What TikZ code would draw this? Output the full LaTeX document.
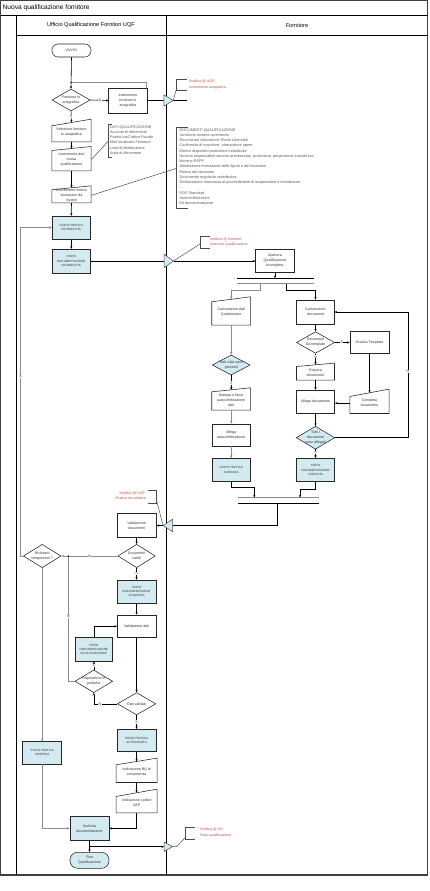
\documentclass[tikz,border=0pt]{standalone}
\usepackage{fontspec}
\setmainfont{Liberation Sans}
\usetikzlibrary{shapes.geometric,arrows.meta,calc}
\definecolor{lb}{RGB}{210,234,240}
\definecolor{rd}{RGB}{196,78,72}
\newcommand\fsBox{\fontsize{3.6}{4.9}\selectfont}
\newcommand\fsCap{\fontsize{3.0}{4.2}\selectfont}
\newcommand\fsLbl{\fontsize{3.6}{4.2}\selectfont}
\newcommand\fsAnn{\fontsize{3.8}{5.25}\selectfont}
\newcommand\fsRed{\fontsize{3.6}{5.4}\selectfont}
\newcommand\zwbox[1]{\makebox[0pt]{#1}}
\newcommand\maninShape[2]{\draw[shp] ([yshift=-#2]#1.north west) -- ([yshift=#2]#1.north east) -- (#1.south east) -- (#1.south west) -- cycle;}
\begin{document}
\begin{tikzpicture}[x=1pt,y=-1pt,
  sz/.style 2 args={minimum width=#1,minimum height=#2},
  shp/.style={draw=black!85,line width=0.55pt},
  txt/.style={inner sep=0pt,align=center,font=\fsBox,text=black!80},
  box/.style={shp,txt,rectangle,fill=white},
  bbox/.style={box,fill=lb,font=\fsCap},
  manin/.style={txt,rectangle},
  diam/.style={shp,txt,diamond,fill=white},
  term/.style={shp,txt,rectangle,rounded corners=6pt,fill=white},
  tri/.style={rectangle,inner sep=0pt},
  trish/.style={draw=black!70,line width=0.5pt,fill=lb},
  con/.style={draw=black,line width=0.6pt},
  arr/.style={con,-{Stealth[length=2.6pt,width=2.2pt]}},
  gcon/.style={draw=black!45,line width=1pt},
  garr/.style={gcon,-{Stealth[length=2.8pt,width=2.4pt]}},
  lbl/.style={fill=white,inner sep=0.4pt,font=\fsLbl,text=black!80},
  annl/.style={draw=black!70,line width=0.5pt},
  ann/.style={inner sep=0pt,align=left,font=\fsAnn,text=black!65},
  rann/.style={inner sep=0pt,align=left,font=\fsRed,text=rd},
]
\useasboundingbox (0,0) rectangle (430,891);
\fill[white] (0,0) rectangle (430,891);
% frame
\draw[draw=black!75,line width=1.3pt] (0.8,0.6) rectangle (427.6,875);
\draw[draw=black,line width=0.7pt] (0.8,15) -- (427.6,15);
\draw[draw=black,line width=0.7pt] (16,15) -- (16,875);
\draw[draw=black,line width=0.7pt] (166,15) -- (166,875);
\draw[draw=black,line width=0.7pt] (16,35) -- (427.6,35);
\node[anchor=west,inner sep=0pt,font=\fontsize{6.6}{7}\selectfont] (title) at (2.5,7.8) {Nuova qualificazione fornitore};
\node[inner sep=0pt,font=\fontsize{5.6}{6}\selectfont] (h1) at (91,25) {Ufficio Qualificazione Fornitori UQF};
\node[inner sep=0pt,font=\fontsize{5.6}{6}\selectfont] (h2) at (297,25) {Fornitore};

% ---------- left lane, top
\node[term,sz={39}{13}] (avvio) at (71.5,50.5) {AVVIO};
\node[diam,sz={38}{22}] (d1) at (71,100) {\zwbox{Fornitore in}\\\zwbox{anagrafica}};
\node[box,sz={38.6}{25}] (ins) at (128,100.5) {Inserimento\\fornitore in\\anagrafica};
\node[manin,sz={39}{19}] (sel) at (71.5,132.2) {Selezione fornitore\\in anagrafica};
\maninShape{sel}{3.35pt}
\node[manin,sz={39}{22}] (insdati) at (71.5,159.7) {Inserimento dati\\nuova\\qualificazione};
\maninShape{insdati}{2pt}
\node[manin,sz={39}{14.7}] (elenco) at (71.5,195.35) {Ottenimento elenco\\documenti da\\inviare};
\maninShape{elenco}{2pt}
\node[bbox,sz={38}{23.3}] (spi) at (71.3,227.7) {STATO PRATICA\\INCOMPLETA};
\node[bbox,sz={38}{23.7}] (sdi) at (71.3,261) {STATO\\DOCUMENTAZIONE\\INCOMPLETA};

% ---------- fornitore lane
\node[box,sz={38.6}{23.4}] (apert) at (275,261) {Apertura\\Qualificazione\\incompleta};
\node[tri,sz={76.6}{5}] (fork) at (275,280.8) {};
\draw[con] (fork.north west) -- (fork.north east);
\draw[draw=black!45,line width=1.3pt] (fork.south west) -- (fork.south east);
\node[manin,sz={38.5}{25.5}] (caricdati) at (231.2,312.25) {Caricamento dati\\Questionario};
\maninShape{caricdati}{2.5pt}
\node[box,sz={37.6}{24}] (caricdoc) at (315.5,312) {Caricamento\\documenti};
\node[diam,fill=lb,sz={38}{20}] (ddati) at (231.2,365) {\zwbox{Tutti i dati sono}\\\zwbox{presenti}};
\node[manin,sz={38.5}{20}] (stampa) at (231.2,400) {Stampa e firma\\autocertificazione\\dati};
\maninShape{stampa}{2pt}
\node[box,sz={38.5}{22}] (allegaauto) at (231.2,435) {Allega\\autocertificazione};
\node[bbox,sz={38.5}{23.4}] (spc) at (231.2,470) {STATO PRATICA\\CARICATA};
\node[diam,sz={38}{21.6}] (dtmpl) at (315.5,342.5) {\zwbox{Documenti}\\\zwbox{Da template}};
\node[box,sz={39}{21.6}] (scarica) at (369.5,342.5) {Scarica Template};
\node[manin,sz={37.6}{15}] (prepara) at (315.5,372.5) {Prepara\\documento};
\maninShape{prepara}{1.7pt}
\node[box,sz={38.3}{23.3}] (allegadoc) at (315.5,401.7) {Allega documento};
\node[manin,sz={39}{20.3}] (completa) at (369.5,403.15) {Completa\\documento};
\maninShape{completa}{3.7pt}
\node[diam,fill=lb,sz={38.5}{23}] (dall) at (315.5,437.7) {\zwbox{Tutti i}\\\zwbox{documenti}\\\zwbox{sono allegati}};
\node[bbox,sz={37.6}{23.4}] (sdc) at (315.5,470) {STATO\\DOCUMENTAZIONE\\CARICATA};
\node[tri,sz={80.7}{5.6}] (join) at (278.7,500.5) {};
\draw[draw=black!45,line width=1.3pt] (join.north west) -- (join.north east);
\draw[con] (join.south west) -- (join.south east);

% ---------- left lane, lower
\node[box,sz={39.4}{24}] (valdoc) at (136.6,525.5) {Validazione\\documenti};
\node[diam,sz={37.4}{23.4}] (dvalidi) at (136.6,556) {\zwbox{Documenti}\\\zwbox{validi}};
\node[diam,sz={37.7}{23.4}] (dinteg) at (42.2,556) {\zwbox{Richiesto}\\\zwbox{integrazioni ?}};
\node[bbox,sz={38.4}{23.3}] (sda) at (136.6,591.7) {STATO\\DOCUMENTAZIONE\\ACQUISITA};
\node[box,sz={38.7}{22.7}] (valdati) at (136.6,626.3) {Validazione dati};
\node[bbox,sz={37.7}{23.3}] (sdaut) at (93.8,649.3) {STATO\\DOCUMENTAZIONE\\DA AUTORIZZARE};
\node[diam,sz={37.7}{22.7}] (drisp) at (93.8,681.3) {\zwbox{Rispondono le}\\\zwbox{politiche}};
\node[diam,sz={38.4}{22.3}] (ddativ) at (136.6,703.8) {\zwbox{Dati validati}};
\node[bbox,sz={38.4}{22.4}] (spa) at (136.6,740.5) {STATO PRATICA\\AUTORIZZATA};
\node[bbox,sz={39}{22.3}] (sps) at (42.2,752.8) {STATO PRATICA\\SOSPESA};
\node[manin,sz={40.7}{20.65}] (bu) at (136.6,771.98) {Indicazione BU di\\competenza};
\maninShape{bu}{3.35pt}
\node[manin,sz={40.7}{19.7}] (sap) at (136.6,802.85) {Indicazione codice\\SAP};
\maninShape{sap}{3.7pt}
\node[bbox,font=\fsBox,sz={39}{23.3}] (archivia) at (89.5,828.3) {Archivia\\documentazione};
\node[term,fill=lb,rounded corners=7.5pt,sz={39}{16}] (fine) at (89.5,860.3) {Fine\\Qualificazione};

% ---------- message triangles
\node[tri,sz={9}{11}] (t1) at (168.5,100.5) {};
\node[tri,sz={9}{13}] (t2) at (168.8,261) {};
\node[tri,sz={9}{12}] (t3) at (167.8,525.5) {};
\node[tri,sz={8}{9}] (t4) at (168.3,846.7) {};

% ---------- connectors
\coordinate (stub1) at (187,100.5);
\coordinate (jn) at (68.3,556);
\draw[arr] (avvio.south) -- (d1.north);
\draw[gcon] ([xshift=-1.5pt]ins.north east) |- ($(avvio.south)!0.8!(d1.north)$);
\fill[black] ($(avvio.south)!0.8!(d1.north)$) circle (0.8pt);
\draw[arr] (d1.east) -- (ins.west);
\draw[arr] (d1.south) -- (sel.north);
\draw[arr] (sel.south) -- (insdati.north);
\draw[arr] (insdati.south) -- (elenco.north);
\draw[arr] (elenco.south) -- (spi.north);
\draw[arr] (spi.south) -- (sdi.north);
\draw[con] (ins.east) -- (t1.west);
\draw[con] (t1.east) -- (stub1);
\draw[con] (sdi.east) -- (t2.west);
\draw[arr] (t2.east) -- (apert.west);
\draw[arr] (apert.south) -- (fork.north);
\draw[garr] ([xshift=-15pt]fork.south) -- ++(0,6.7) -| (caricdati.north);
\draw[arr] ([xshift=11.7pt]fork.south) -- ++(0,6.7) -| (caricdoc.north);
\draw[garr] (caricdati.south) -- (ddati.north);
\draw[arr] (ddati.south) -- (stampa.north);
\draw[garr] (stampa.south) -- (allegaauto.north);
\draw[garr] (allegaauto.south) -- (spc.north);
\draw[arr] (spc.south) -- ++(0,5.6) -| ([xshift=-24.4pt]join.north);
\draw[arr] (caricdoc.south) -- (dtmpl.north);
\draw[arr] (dtmpl.east) -- (scarica.west);
\draw[arr] (dtmpl.south) -- (prepara.north);
\draw[arr] (prepara.south) -- (allegadoc.north);
\draw[arr] (scarica.south) -- (completa.north);
\draw[arr] (completa.west) -- (completa.west -| allegadoc.east);
\draw[arr] (allegadoc.south) -- (dall.north);
\draw[arr] (dall.south) -- (sdc.north);
\draw[arr] (dall.east) -| ($(caricdoc.east)+(73.4,0)$) |- (caricdoc.east);
\draw[arr] (sdc.south) -- ++(0,7.6) -| ([xshift=21.3pt]join.north);
\draw[con] ([xshift=-1.4pt]join.south) |- (t3.east);
\draw[arr] (t3.west) -- (valdoc.east);
\draw[arr] (valdoc.south) -- (dvalidi.north);
\draw[garr] (dvalidi.west) -- (dinteg.east);
\draw[gcon] (drisp.west) -| (jn);
\fill[black] (jn) circle (0.8pt);
\draw[garr] (dinteg.west) -- ++(-2.6,0) |- (spi.west);
\draw[garr] (dinteg.south) -- (sps.north);
\draw[arr] (dvalidi.south) -- (sda.north);
\draw[arr] (sda.south) -- (valdati.north);
\draw[arr] (sdaut.north) |- (valdati.west);
\draw[arr] (drisp.north) -- (sdaut.south);
\draw[arr] (valdati.south) -- (ddativ.north);
\draw[arr] (ddativ.west) -| (drisp.south);
\draw[arr] (ddativ.south) -- (spa.north);
\draw[arr] (spa.south) -- (bu.north);
\draw[arr] (bu.south) -- (sap.north);
\draw[arr] (sap.south) |- (archivia.east);
\draw[garr] (sps.south) |- (archivia.west);
\draw[arr] (archivia.south) -- (fine.north);
\draw[arr] (archivia.south) |- (t4.west);

% triangles on top
\draw[trish] (t1.north west) -- (t1.east) -- (t1.south west) -- cycle;
\draw[trish] (t2.north west) -- (t2.east) -- (t2.south west) -- cycle;
\draw[trish] (t3.north east) -- (t3.west) -- (t3.south east) -- cycle;
\draw[trish] (t4.north west) -- (t4.east) -- (t4.south west) -- cycle;

% ---------- labels
\node[lbl] (lN1) at (100,100) {N};
\node[lbl] (lS1) at (71,116.5) {S};
\node[lbl] (lSd) at (231.2,383) {S};
\node[lbl] (lSt) at (341.7,342.5) {S};
\node[lbl] (lNt) at (315.5,356.8) {N};
\node[lbl] (lSa) at (315.5,452.5) {S};
\node[lbl] (lNa) at (407.7,371.7) {N};
\node[lbl] (lNv) at (89.3,556) {N};
\node[lbl] (lSl) at (20.7,376.7) {S};
\node[lbl] (lSv) at (136.6,573.3) {S};
\node[lbl] (lNr) at (68.3,616.7) {N};
\node[lbl] (lSr) at (93.8,665.5) {S};
\node[lbl] (lNd) at (100,703.8) {N};
\node[lbl] (lSdv) at (136.6,722) {S};

% ---------- annotations
\node[ann,anchor=north west] (adati) at (110,125.3) {DATI QUALIFICAZIONE\\Account di riferimento\\Partita Iva/Codice Fiscale\\Mail incaricato Fornitore\\Lista di distribuzione\\Area di riferimento};
\draw[annl] (112,124.3) -- (108.3,124.3) -- (108.3,157.3) -- (112,157.3);
\coordinate (bdati) at (108.3,141);
\draw[annl] (insdati.east) -- (bdati);

\node[ann,anchor=north west] (adoc) at (179.5,128.3) {DOCUMENTI QUALIFICAZIONE\\Iscrizione camera commercio\\Documento Valutazione Rischi Aziendali\\Conformit\`a di macchine, attrezzature opere\\Elenco dispositivi protezione individuale\\Nomina responsabile servizio prevenzione, protezione, prevenzione incendi ecc.\\Nomina RSPP\\Attestazione formazione delle figure e dei lavoratori\\Elenco dei lavoratori\\Documento regolarit\`a contributiva\\Dichiarazione mancanza di provvedimenti di sospensione e interdizione\\...\\POS Standard\\Autocertificazione\\Kit documentazione};
\draw[annl] (188,127.7) -- (176.7,127.7) -- (176.7,208.3) -- (188,208.3);
\coordinate (bdoc) at (176.7,168.3);
\draw[annl] (elenco.east) -- (bdoc);

\node[rann,anchor=north west] (a1) at (189,79.8) {Notifica @ UQF:\\Inserimento anagrafica};
\draw[annl] (186.7,79) -- (176.7,79) -- (176.7,90) -- (186.7,90);
\coordinate (b1) at (176.7,88);
\draw[annl] (t1.east) -- (b1);

\node[rann,anchor=north west] (a2) at (210,237.3) {Notifica @ fornitore:\\Apertura Qualificazione};
\draw[annl] (210,236.7) -- (200.7,236.7) -- (200.7,248.3) -- (210,248.3);
\coordinate (b2) at (200.7,243.5);
\draw[annl] (t2.east) -- (b2);

\node[rann,anchor=north east,align=right] (a3) at (146,491.3) {Notifica @ UQF:\\Pratica da validare};
\draw[annl] (147.7,490.7) -- (156.7,490.7) -- (156.7,503.3) -- (147.7,503.3);
\coordinate (b3) at (156.7,501);
\draw[annl] (b3) -- (t3.west);

\node[rann,anchor=north west] (a4) at (200,827.8) {Notifica @ XX:\\Stato qualificazione};
\draw[annl] (195,827.3) -- (185,827.3) -- (185,839.3) -- (195,839.3);
\coordinate (b4) at (185,838);
\draw[annl] (t4.east) -- ++(4,0) -- (b4);
\end{tikzpicture}
\end{document}
